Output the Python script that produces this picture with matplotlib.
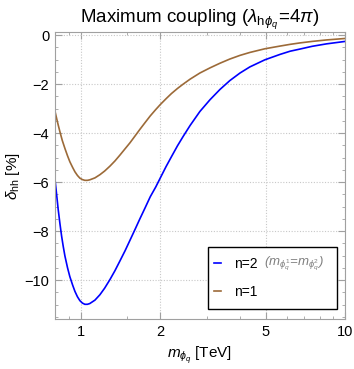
import matplotlib
matplotlib.use("Agg")
import matplotlib.pyplot as plt
from matplotlib.patches import Rectangle
from matplotlib.ticker import FixedLocator, NullFormatter, MultipleLocator

plt.rcParams['font.family'] = ['Liberation Sans', 'DejaVu Sans']
plt.rcParams['mathtext.fontset'] = 'custom'
plt.rcParams['mathtext.rm'] = 'Liberation Sans'
plt.rcParams['mathtext.it'] = 'Liberation Sans:italic'
plt.rcParams['mathtext.bf'] = 'Liberation Sans:bold'

# n=2 curve (blue)
m_n2 = [0.797, 0.81, 0.82, 0.833, 0.845, 0.857, 0.87, 0.89, 0.908, 0.93, 0.949,
        0.97, 0.991, 1.013, 1.035, 1.058, 1.08, 1.13, 1.18, 1.23, 1.288, 1.345,
        1.405, 1.47, 1.533, 1.6, 1.672, 1.75, 1.83, 1.92, 2.0, 2.1, 2.2, 2.32,
        2.44, 2.59, 2.82, 3.08, 3.36, 3.66, 4.0, 4.36, 4.97, 5.67, 6.19, 6.76,
        7.5, 8.5, 10.0]
d_n2 = [-5.85, -6.55, -7.1, -7.7, -8.2, -8.62, -9.02, -9.5, -9.86, -10.2, -10.46,
        -10.68, -10.84, -10.94, -10.99, -10.99, -10.96, -10.82, -10.6, -10.33, -9.98, -9.62,
        -9.22, -8.8, -8.38, -7.95, -7.5, -7.05, -6.6, -6.2, -5.82, -5.37, -4.97, -4.52,
        -4.13, -3.69, -3.12, -2.64, -2.22, -1.86, -1.55, -1.3, -1.01, -0.79, -0.66, -0.57,
        -0.46, -0.36, -0.26]

# n=1 curve (brown)
m_n1 = [0.797, 0.81, 0.82, 0.833, 0.85, 0.87, 0.89, 0.908, 0.93, 0.949, 0.97,
        0.991, 1.013, 1.035, 1.058, 1.08, 1.13, 1.18, 1.23, 1.288, 1.345, 1.405,
        1.47, 1.533, 1.6, 1.672, 1.75, 1.83, 1.92, 2.0, 2.1, 2.2, 2.32, 2.44,
        2.59, 2.82, 3.08, 3.36, 3.66, 4.0, 4.36, 4.97, 5.67, 6.19, 6.76, 7.5,
        8.5, 10.0]
d_n1 = [-3.09, -3.42, -3.66, -3.95, -4.3, -4.63, -4.93, -5.17, -5.4, -5.58, -5.73,
        -5.84, -5.9, -5.93, -5.93, -5.91, -5.83, -5.7, -5.55, -5.35, -5.14, -4.9,
        -4.64, -4.4, -4.13, -3.85, -3.57, -3.3, -3.04, -2.83, -2.6, -2.39, -2.18, -2.0,
        -1.8, -1.55, -1.34, -1.15, -0.98, -0.83, -0.71, -0.56, -0.45, -0.38, -0.32, -0.26,
        -0.2, -0.14]

x_ticks = [1, 2, 5, 10]
x_ticklabels = ['1', '2', '5', '10']
x_minor = [0.8, 0.9, 1.5, 3, 4, 6, 7, 8, 9]
y_ticks = [0, -2, -4, -6, -8, -10]
y_ticklabels = ['0', '\u22122', '\u22124', '\u22126', '\u22128', '\u221210']

fig = plt.figure(figsize=(3.54, 3.69), dpi=100)
ax = fig.add_axes([0.155, 0.1355, 0.82, 0.7775])

l2, = ax.plot(m_n2, d_n2, color='#0000ff', lw=1.2, label='n=2')
l1, = ax.plot(m_n1, d_n1, color='#9c6a38', lw=1.2, label='n=1')

ax.set_xscale('log')
ax.set_xlim(0.797, 10)
ax.set_ylim(-11.59, 0.12)

ax.xaxis.set_major_locator(FixedLocator(x_ticks))
ax.set_xticklabels(x_ticklabels)
ax.xaxis.set_minor_locator(FixedLocator(x_minor))
ax.xaxis.set_minor_formatter(NullFormatter())
ax.yaxis.set_major_locator(FixedLocator(y_ticks))
ax.set_yticklabels(y_ticklabels)
ax.yaxis.set_minor_locator(MultipleLocator(0.5))

ax.grid(True, which='major', color='#c8c8c8', ls=(0, (1, 1.5)), lw=0.8)
for s in ax.spines.values():
    s.set_color('#a0a0a0')
    s.set_linewidth(0.8)
ax.tick_params(which='both', direction='in', top=True, right=True,
               color='#a0a0a0', labelsize=10.5, pad=4)
ax.tick_params(which='major', length=5)
ax.tick_params(which='minor', length=2.5)

ax.set_title(r'Maximum coupling ($\lambda_{\mathrm{h}\phi_q}\!=\!4\pi$)', fontsize=13.5, pad=6)
ax.set_xlabel(r'$m_{\phi_q}$ [TeV]', fontsize=11)
ax.set_ylabel(r'$\delta_{\mathrm{hh}}$ [%]', fontsize=11, labelpad=2)

# legend box drawn by hand, entries placed inside it
box = Rectangle((0.528, 0.035), 0.444, 0.216, transform=ax.transAxes,
                facecolor='white', edgecolor='black', lw=1.0, zorder=5)
ax.add_patch(box)
leg = ax.legend(loc='center left', bbox_to_anchor=(0.549, 0.143),
                fontsize=10, handlelength=0.5, handletextpad=0.9,
                labelspacing=1.05, borderaxespad=0, borderpad=0, frameon=False)
leg.set_zorder(6)

t2 = leg.get_texts()[0]
ax.annotate(r'($m_{\phi_q^1}$=$m_{\phi_q^2}$)', xy=(1, 0.5), xycoords=t2,
            xytext=(5, 0), textcoords='offset points', va='center', ha='left',
            fontsize=9.5, color='#808080', style='italic', zorder=10)

fig.savefig('out.png', dpi=100)
